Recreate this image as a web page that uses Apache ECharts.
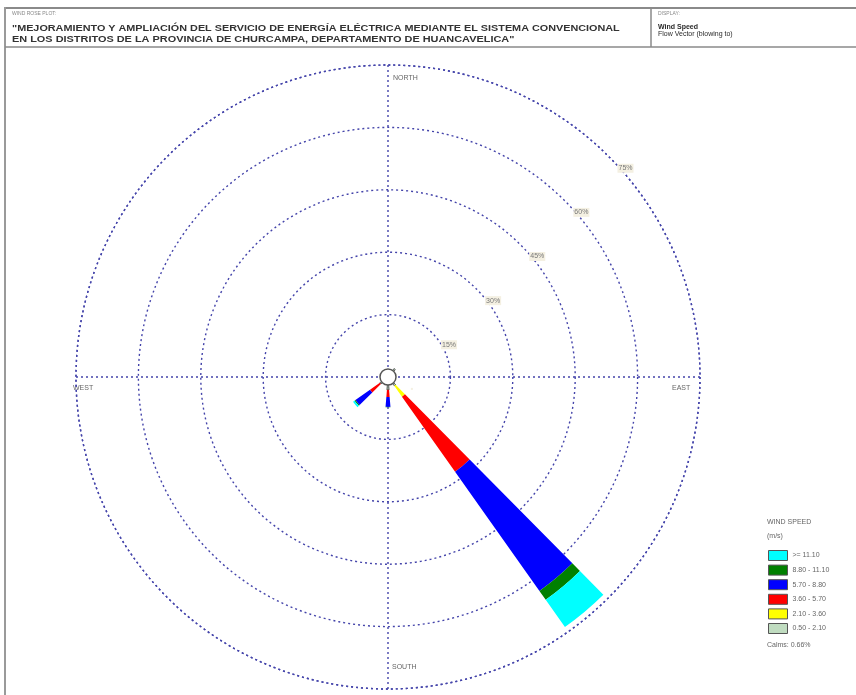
<!DOCTYPE html>
<html>
<head>
<meta charset="utf-8">
<script src="https://cdn.jsdelivr.net/npm/echarts@6/dist/echarts.min.js"></script>
<style>html,body{margin:0;padding:0;background:#fff;}#c{width:856px;height:695px;}</style>
</head>
<body>
<div id="c"></div>
<script>
// 36 direction sectors (flow vector, blowing to), degrees from north
const dirLabels = ['0','10','20','30','40','50','60','70','80','90','100','110','120','130','140','150','160','170',
  '180','190','200','210','220','230','240','250','260','270','280','290','300','310','320','330','340','350'];
// directions that have a petal
const petalDirs = [40, 140, 180, 230];
// frequency (%) per wind speed class at those directions
const spd_050_210 = [2.5, 2.6, 3.1, 2.4];
const spd_210_360 = [0, 3.2, 0, 0];
const spd_360_570 = [0, 22.1, 1.7, 2.9];
const spd_570_880 = [0, 35.1, 2.4, 4.3];
const spd_880_1110 = [0, 2.6, 0.1, 0.25];
const spd_ge_1110 = [0, 8.0, 0, 0.45];
const classNames = ['0.50 - 2.10', '2.10 - 3.60', '3.60 - 5.70', '5.70 - 8.80', '8.80 - 11.10', '>= 11.10'];
const classColors = ['#c0dcc0', '#ffff00', '#ff0000', '#0000ff', '#008000', '#00ffff'];
const calmsPct = 0.66;
const ringTicks = [15, 30, 45, 60, 75];

const classValues = [spd_050_210, spd_210_360, spd_360_570, spd_570_880, spd_880_1110, spd_ge_1110];
function fullArray(vals) {
  const arr = dirLabels.map(() => 0);
  petalDirs.forEach((d, i) => { arr[dirLabels.indexOf(String(d))] = vals[i]; });
  return arr;
}

const CX = 388, CY = 377, R = 312;
const dotted = { color: '#4444aa', width: 1.4, type: [2, 3] };
const font = 'Liberation Sans, Arial, sans-serif';

const chart = echarts.init(document.getElementById('c'), null, { renderer: 'canvas' });

const barSeries = classNames.map((name, i) => ({
  name: name,
  type: 'bar',
  coordinateSystem: 'polar',
  polarIndex: 0,
  stack: 'rose',
  barCategoryGap: '6%',
  data: fullArray(classValues[i]),
  itemStyle: i === 0 ? { color: classColors[i], borderColor: '#333', borderWidth: 0.8 } : { color: classColors[i] },
  z: 3,
  silent: true
}));

const option = {
  animation: false,
  backgroundColor: '#ffffff',
  polar: [
    { center: [CX, CY], radius: R },
    { center: [CX, CY], radius: R },
    { center: [CX + 6.5, CY - 6.5], radius: R }
  ],
  angleAxis: [
    { polarIndex: 0, type: 'category', data: dirLabels, startAngle: 95, clockwise: true, show: false },
    { polarIndex: 1, type: 'value', min: 0, max: 360, interval: 90, startAngle: 90, clockwise: true,
      axisLine: { show: true, lineStyle: dotted }, axisTick: { show: false }, axisLabel: { show: false },
      splitLine: { show: true, lineStyle: dotted } },
    { polarIndex: 2, type: 'value', min: 0, max: 360, startAngle: 45, show: false }
  ],
  radiusAxis: [
    { polarIndex: 0, type: 'value', min: 0, max: 75, show: false },
    { polarIndex: 1, type: 'value', min: 0, max: 75, interval: 15,
      axisLine: { show: false }, axisTick: { show: false }, axisLabel: { show: false },
      splitLine: { show: true, lineStyle: dotted } },
    { polarIndex: 2, type: 'value', min: 0, max: 75, interval: 15,
      axisLine: { show: false }, axisTick: { show: false }, splitLine: { show: false },
      axisLabel: { show: true, fontFamily: font, fontSize: 7, color: '#777', backgroundColor: '#f4f0e2',
        padding: [1, 1], margin: -26,
        formatter: v => (ringTicks.indexOf(v) >= 0 ? v + '%' : '') } }
  ],
  legend: {
    orient: 'vertical', left: 763, top: 545, itemWidth: 19, itemHeight: 10, itemGap: 3.6,
    icon: 'rect', selectedMode: false,
    data: classNames.slice().reverse(),
    itemStyle: { borderColor: '#555', borderWidth: 1 },
    textStyle: { fontFamily: font, fontSize: 7, color: '#666' }
  },
  series: barSeries.concat([{
    type: 'pie', center: [CX, CY], radius: 8, silent: true, z: 10,
    label: { show: false }, labelLine: { show: false },
    data: [{ value: calmsPct, name: 'Calms' }],
    itemStyle: { color: '#ffffff', borderColor: '#555', borderWidth: 1.5 }
  }]),
  graphic: [
    { type: 'rect', shape: { x: 5, y: 7, width: 851, height: 2 }, style: { fill: '#8a8a8a' }, silent: true },
    { type: 'rect', shape: { x: 4, y: 7, width: 2, height: 688 }, style: { fill: '#9a9a9a' }, silent: true },
    { type: 'line', shape: { x1: 5, y1: 47, x2: 856, y2: 47 }, style: { stroke: '#8a8a8a', lineWidth: 1.5 }, silent: true },
    { type: 'line', shape: { x1: 651, y1: 8, x2: 651, y2: 47 }, style: { stroke: '#8a8a8a', lineWidth: 1.5 }, silent: true },
    { type: 'text', x: 12, y: 14, style: { text: 'WIND ROSE PLOT:', font: '5px ' + font, fill: '#888', textVerticalAlign: 'middle' } },
    { type: 'text', x: 12, y: 29, scaleX: 1.273, style: { text: '"MEJORAMIENTO Y AMPLIACIÓN DEL SERVICIO DE ENERGÍA ELÉCTRICA MEDIANTE EL SISTEMA CONVENCIONAL', font: 'bold 8.5px ' + font, fill: '#333', textVerticalAlign: 'middle' } },
    { type: 'text', x: 12, y: 40, scaleX: 1.284, style: { text: 'EN LOS DISTRITOS DE LA PROVINCIA DE CHURCAMPA, DEPARTAMENTO DE HUANCAVELICA"', font: 'bold 8.5px ' + font, fill: '#333', textVerticalAlign: 'middle' } },
    { type: 'text', x: 658, y: 14, style: { text: 'DISPLAY:', font: '5px ' + font, fill: '#888', textVerticalAlign: 'middle' } },
    { type: 'text', x: 658, y: 27, style: { text: 'Wind Speed', font: 'bold 7px ' + font, fill: '#2a2a2a', textVerticalAlign: 'middle' } },
    { type: 'text', x: 658, y: 34, style: { text: 'Flow Vector (blowing to)', font: '7px ' + font, fill: '#2a2a2a', textVerticalAlign: 'middle' } },
    { type: 'text', x: 393, y: 78, style: { text: 'NORTH', font: '7px ' + font, fill: '#666', textVerticalAlign: 'middle' } },
    { type: 'text', x: 392, y: 667, style: { text: 'SOUTH', font: '7px ' + font, fill: '#666', textVerticalAlign: 'middle' } },
    { type: 'text', x: 73, y: 388, style: { text: 'WEST', font: '7px ' + font, fill: '#666', textVerticalAlign: 'middle' } },
    { type: 'text', x: 672, y: 388, style: { text: 'EAST', font: '7px ' + font, fill: '#666', textVerticalAlign: 'middle' } },
    { type: 'text', x: 767, y: 522, style: { text: 'WIND SPEED', font: '7px ' + font, fill: '#666', textVerticalAlign: 'middle' } },
    { type: 'text', x: 767, y: 536, style: { text: '(m/s)', font: '7px ' + font, fill: '#666', textVerticalAlign: 'middle' } },
    { type: 'text', x: 767, y: 645, style: { text: 'Calms: ' + calmsPct.toFixed(2) + '%', font: '7px ' + font, fill: '#666', textVerticalAlign: 'middle' } }
  ]
};
chart.setOption(option);
</script>
</body>
</html>
